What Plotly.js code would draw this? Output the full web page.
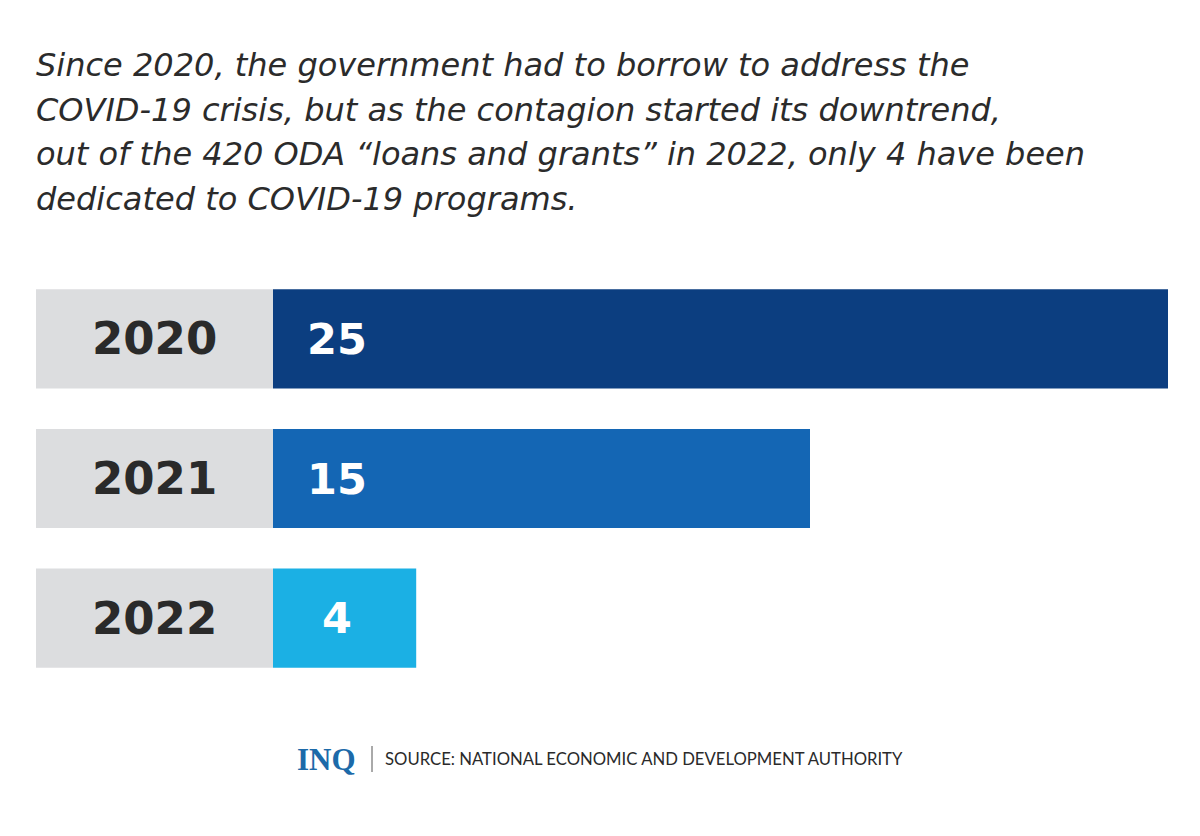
<!DOCTYPE html>
<html><head><meta charset="utf-8">
<script src="https://cdn.plot.ly/plotly-3.0.1.min.js"></script>
<style>body{margin:0;background:#fff}#chart{width:1200px;height:836px}</style>
</head><body><div id="chart"></div>
<script>
const years = ["2020", "2021", "2022"];
const values = [25, 15, 4];
const barColors = ["#0c3e80", "#1466b4", "#1bb0e4"];
const titleLines = [
  "Since 2020, the government had to borrow to address the",
  "COVID-19 crisis, but as the contagion started its downtrend,",
  "out of the 420 ODA \u201cloans and grants\u201d in 2022, only 4 have been",
  "dedicated to COVID-19 programs."
];
const sourceText = "SOURCE: NATIONAL ECONOMIC AND DEVELOPMENT AUTHORITY";
const logoText = "INQ";

const labelWidth = 6.62; // width of the grey year-label block, in axis units

const greyTrace = {
  type: "bar", orientation: "h",
  y: years, x: years.map(() => labelWidth), base: years.map(() => -labelWidth),
  marker: {color: "#dcdddf", line: {width: 0}},
  width: 0.71, hoverinfo: "skip", showlegend: false
};
const valueTrace = {
  type: "bar", orientation: "h",
  y: years, x: values, base: 0,
  marker: {color: barColors, line: {width: 0}},
  width: 0.71, hoverinfo: "skip", showlegend: false
};

const L = 36, W = 1200 - 36 - 32, T = 269, H = 836 - 269 - 148;
const px = x => (x - L) / W, py = y => (T + H - y) / H;

const annotations = [];
years.forEach((yr, i) => {
  annotations.push({
    x: -labelWidth / 2, y: i, xref: "x", yref: "y",
    text: yr, showarrow: false, xanchor: "center", yanchor: "middle",
    font: {family: "DejaVu Sans", size: 45, weight: 700, color: "#2a2a2a"}
  });
  annotations.push({
    x: 0, y: i, xref: "x", yref: "y", xshift: 64,
    text: String(values[i]), showarrow: false, xanchor: "center", yanchor: "middle",
    font: {family: "DejaVu Sans", size: 43, weight: 700, color: "#ffffff"}
  });
});
const lineCenters = [65, 110, 154, 199];
titleLines.forEach((t, i) => {
  annotations.push({
    x: px(34), y: py(lineCenters[i]), xref: "paper", yref: "paper",
    text: t, showarrow: false, xanchor: "left", yanchor: "middle",
    font: {family: "DejaVu Sans", size: 32, style: "italic", color: "#2b2b2b"}
  });
});
annotations.push({
  x: px(295), y: py(759), xref: "paper", yref: "paper",
  text: "<b>" + logoText + "</b>", showarrow: false, xanchor: "left", yanchor: "middle",
  font: {family: "Liberation Serif", size: 31, color: "#1c6aa9"}
});
annotations.push({
  x: px(383), y: py(759), xref: "paper", yref: "paper",
  text: sourceText, showarrow: false, xanchor: "left", yanchor: "middle",
  font: {family: "Lato", size: 16.7, color: "#2a2a2a"}
});

const layout = {
  width: 1200, height: 836,
  margin: {l: L, r: 32, t: T, b: 148, pad: 0},
  paper_bgcolor: "#ffffff", plot_bgcolor: "#ffffff",
  barmode: "overlay",
  xaxis: {range: [-labelWidth, 25], visible: false, fixedrange: true},
  yaxis: {type: "category", autorange: false, range: [2.5, -0.5], visible: false, fixedrange: true},
  shapes: [{
    type: "line", xref: "paper", yref: "paper",
    x0: px(372), x1: px(372), y0: py(746), y1: py(772),
    line: {color: "#555555", width: 1}
  }],
  annotations: annotations,
  showlegend: false
};

Plotly.newPlot("chart", [greyTrace, valueTrace], layout, {displayModeBar: false, staticPlot: true});
</script></body></html>
